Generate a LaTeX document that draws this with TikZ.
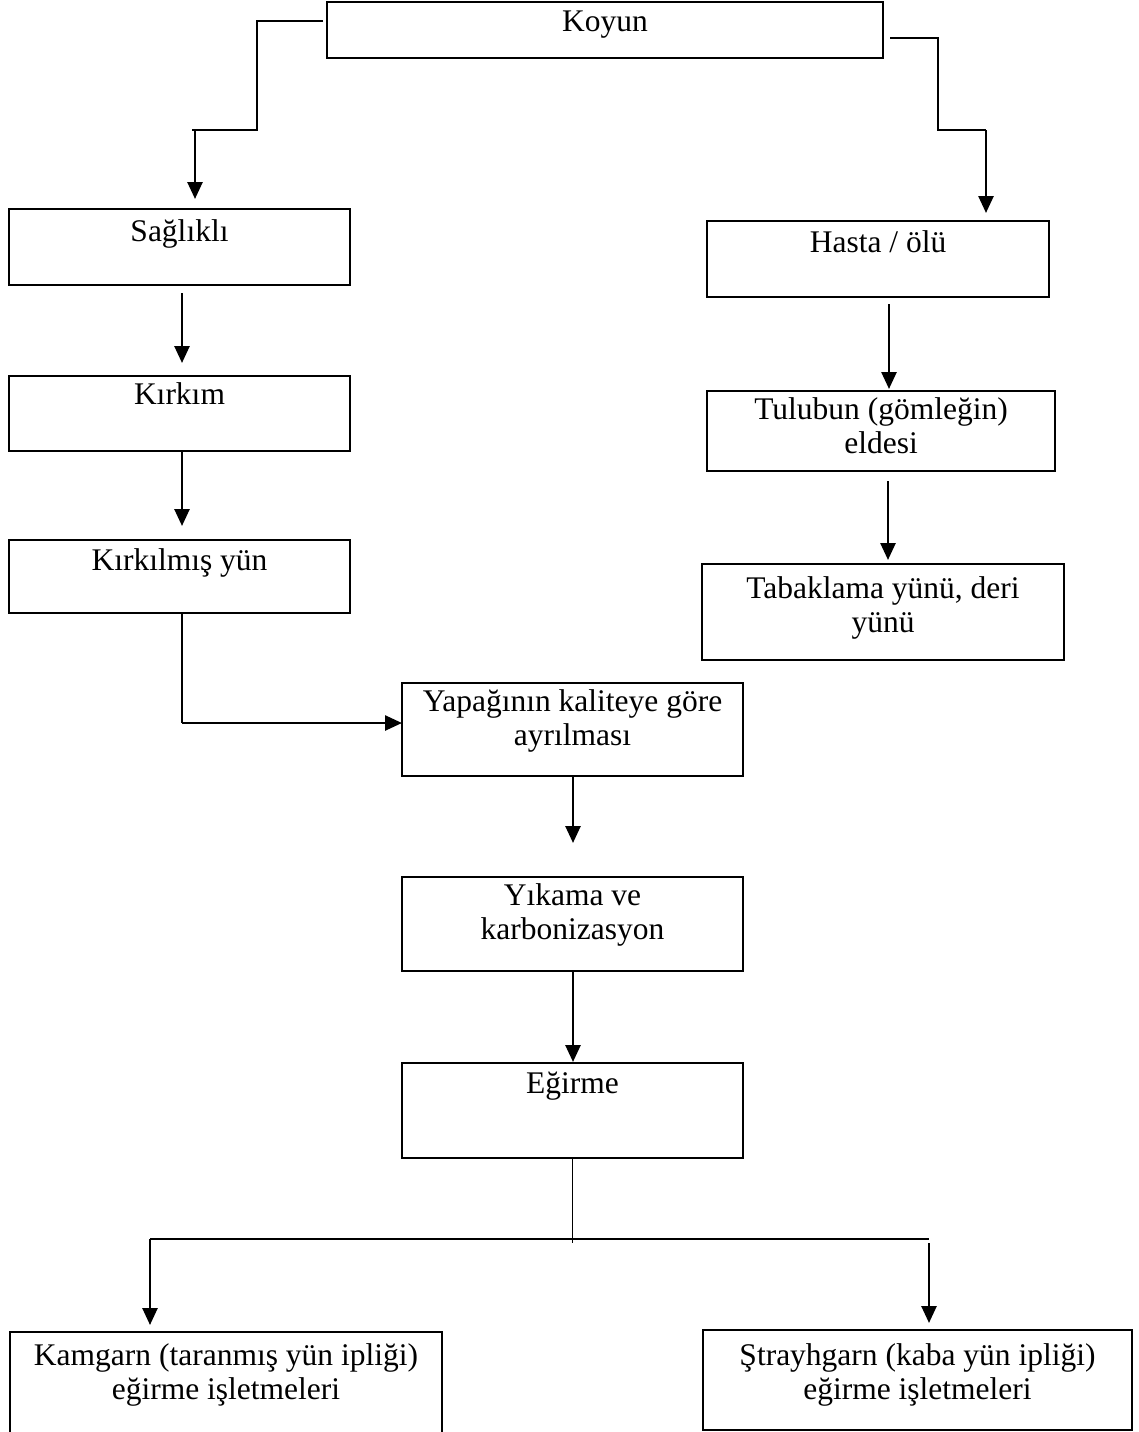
\documentclass[tikz,border=0pt]{standalone}
\usepackage{fontspec}
\setmainfont{Liberation Serif}
\usetikzlibrary{arrows.meta}
\newcommand\mkbox[5]{\node[box, minimum width={#4-#2}, minimum height={#5-#3}] (#1) at ({(#2+#4)/2},{(#3+#5)/2}) {};}
\newcommand\mklabel[3]{\node[txt, anchor=north] (#1-t) at ([yshift=-#2pt]#1.north) {#3};}
\begin{document}
\begin{tikzpicture}[x=1pt,y=-1pt,
  box/.style={draw, line width=2.2pt, inner sep=0pt, outer sep=0pt, rectangle},
  txt/.style={inner sep=0pt, align=center, font=\fontsize{31.5}{34}\selectfont},
  thinline/.style={line width=1.2pt},
  arr/.style={line width=2.6pt, -{Triangle[length=17pt,width=15pt]}}]
\clip (0,0) rectangle (1138,1432);
\fill[white] (0,0) rectangle (1138,1432);

% boxes
\mkbox{koyun}{327}{2}{883}{58}
\mkbox{sag}{9}{209}{350}{285}
\mkbox{hasta}{707}{221}{1049}{297}
\mkbox{kirkim}{9}{376}{350}{451}
\mkbox{tulu}{707}{391}{1055}{471}
\mkbox{kirkil}{9}{540}{350}{613}
\mkbox{taba}{702}{564}{1064}{660}
\mkbox{yapa}{402}{683}{743}{776}
\mkbox{yika}{402}{877}{743}{971}
\mkbox{egir}{402}{1063}{743}{1158}
\mkbox{kam}{10}{1332}{442}{1450}
\mkbox{stray}{703}{1330}{1132}{1430}

% texts
\mklabel{koyun}{8.5}{Koyun}
\mklabel{sag}{10.5}{Sağlıklı}
\mklabel{hasta}{9.5}{Hasta / ölü}
\mklabel{kirkim}{6.5}{Kırkım}
\mklabel{tulu}{6.5}{Tulubun (gömleğin)\\eldesi}
\mklabel{kirkil}{8.5}{Kırkılmış yün}
\mklabel{taba}{12.5}{Tabaklama yünü, deri\\yünü}
\mklabel{yapa}{6.5}{Yapağının kaliteye göre\\ayrılması}
\mklabel{yika}{6.5}{Yıkama ve\\karbonizasyon}
\mklabel{egir}{8.5}{Eğirme}
\mklabel{kam}{11.5}{Kamgarn (taranmış yün ipliği)\\eğirme işletmeleri}
\mklabel{stray}{13.5}{Ştrayhgarn (kaba yün ipliği)\\eğirme işletmeleri}

% Koyun -> Sağlıklı
\coordinate (kl0) at (323,21);
\coordinate (kl1) at (257,21);
\coordinate (kl2) at (257,130);
\coordinate (kl3) at (192,130);
\coordinate (kl4) at (195,130);
\draw[thinline] (kl0) -- (kl1) -- (kl2) -- (kl3);
\draw[arr] (kl4) -- ([yshift=10pt]sag.north -| kl4);

% Koyun -> Hasta
\coordinate (kr0) at (890,38);
\coordinate (kr1) at (938,38);
\coordinate (kr2) at (938,130);
\coordinate (kr3) at (986,130);
\draw[thinline] (kr0) -- (kr1) -- (kr2) -- (kr3);
\draw[arr] (kr3) -- ([yshift=8pt]hasta.north -| kr3);

% left column
\coordinate (c1) at (182,293);
\draw[arr] (c1) -- ([yshift=13pt]kirkim.north -| c1);
\coordinate (c2) at (182,451);
\draw[arr] (kirkim.south -| c2) -- ([yshift=14pt]kirkil.north -| c2);

% right column
\coordinate (c3) at (889,304);
\draw[arr] (c3) -- ([yshift=2pt]tulu.north -| c3);
\coordinate (c4) at (888,481);
\draw[arr] (c4) -- ([yshift=4pt]taba.north -| c4);

% Kırkılmış -> Yapağının
\coordinate (kb) at (182,723);
\draw[thinline] (kirkil.south -| kb) -- (kb);
\draw[arr] (kb) -- (kb -| yapa.west);

% middle column
\coordinate (c5) at (573,776);
\draw[arr] (c5) -- ([yshift=34pt]yika.north -| c5);
\draw[arr] (yika.south -| c5) -- ([yshift=1pt]egir.north -| c5);

% Eğirme -> split
\coordinate (s0) at (572.5,1243);
\coordinate (sl) at (150,1239);
\coordinate (sr) at (929,1239);
\coordinate (sr2) at (929,1243);
\draw[thinline] (egir.south) -- (s0);
\draw[thinline] (sl) -- (sr);
\draw[arr] (sl) -- ([yshift=7pt]kam.north -| sl);
\draw[arr] (sr2) -- ([yshift=7pt]stray.north -| sr2);
\end{tikzpicture}
\end{document}
